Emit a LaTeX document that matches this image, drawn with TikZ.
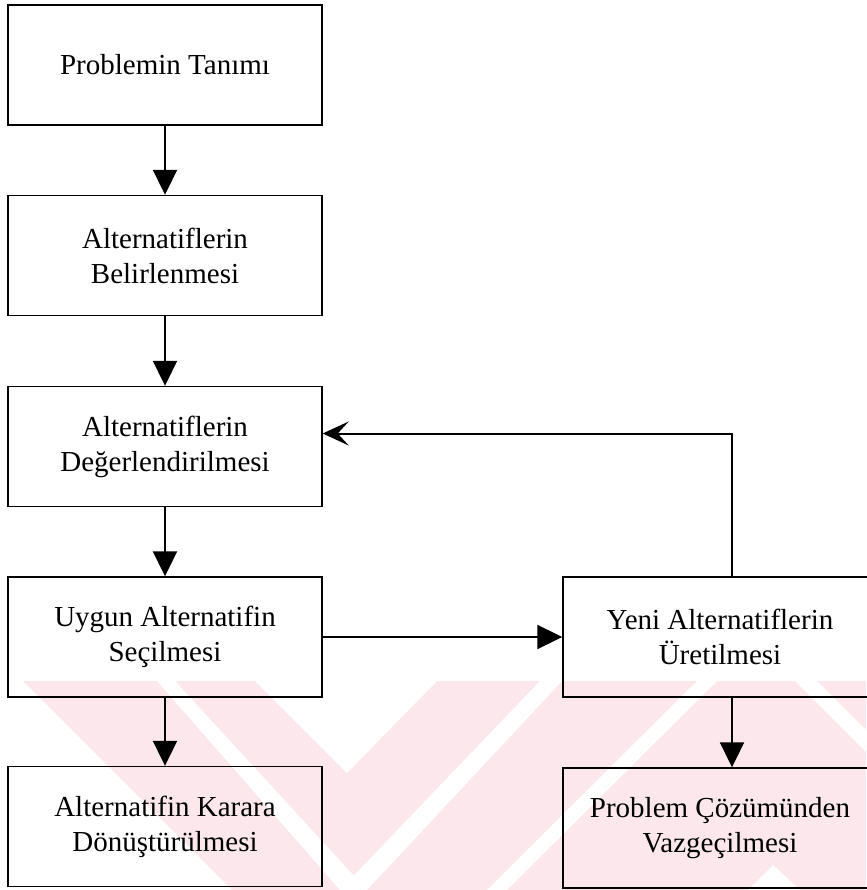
\documentclass[tikz,border=0pt]{standalone}
\usepackage{fontspec}
\setmainfont{Liberation Serif}
\usetikzlibrary{arrows.meta}
\definecolor{wmpink}{RGB}{252,232,236}
\tikzset{
  stepbox/.style={draw=black, line width=1.4pt, minimum width=314pt,
    minimum height=120pt, align=center, inner sep=0pt,
    font=\fontsize{29}{35}\selectfont},
  flow/.style={line width=2pt, -{Triangle[length=25pt,width=24pt]}},
  back/.style={line width=2pt, -{Stealth[length=26pt,width=24pt,inset=11pt]}},
}
\begin{document}
\begin{tikzpicture}[x=1pt,y=-1pt]
\useasboundingbox (0,0) rectangle (866,890);
\fill[white] (0,0) rectangle (866,890);

% faint background watermark: pink band with white diagonal cut-outs
\begin{scope}
\clip (0,681) rectangle (866,890);
\fill[wmpink] (0,681) rectangle (866,890);
\fill[white] (0,681) -- (23,681) -- (232,890) -- (0,890) -- cycle;
\fill[white] (157,681) -- (175,681) -- (367,890) -- (340,890) -- cycle;
\fill[white] (540,681) -- (562,681) -- (367,890) -- (340,890) -- cycle;
\fill[white] (255,681) -- (437,681) -- (347,773) -- cycle;
\fill[white] (487,890) -- (507,890) -- (717,681) -- (697,681) -- cycle;
\fill[white] (795,681) -- (817,681) -- (866,730) -- (866,752) -- cycle;
\fill[white] (773,865) -- (800,890) -- (748,890) -- cycle;
\end{scope}

% left column
\node[stepbox] (b1) at (165,65)    {Problemin Tanımı};
\node[stepbox] (b2) at (165,255.5) {Alternatiflerin\\Belirlenmesi};
\node[stepbox] (b3) at (165,446.5) {Alternatiflerin\\Değerlendirilmesi};
\node[stepbox] (b4) at (165,637)   {Uygun Alternatifin\\Seçilmesi};
\node[stepbox] (b5) at (165,826.5) {Alternatifin Karara\\Dönüştürülmesi};

% right column
\node[stepbox] (r1) at (720,637) {Yeni Alternatiflerin\\Üretilmesi};
\node[stepbox] (r2) at (720,828) {Problem Çözümünden\\Vazgeçilmesi};

% connectors
\draw[flow] (b1.south) -- (b2.north);
\draw[flow] (b2.south) -- (b3.north);
\draw[flow] (b3.south) -- (b4.north);
\draw[flow] (b4.south) -- (b5.north);
\draw[flow] (b4.east) -- (r1.west);
\draw[flow] ([xshift=12pt]r1.south) -- ([xshift=12pt]r2.north);
\draw[back] ([xshift=12pt]r1.north) |- ([yshift=13pt]b3.east);
\end{tikzpicture}
\end{document}
